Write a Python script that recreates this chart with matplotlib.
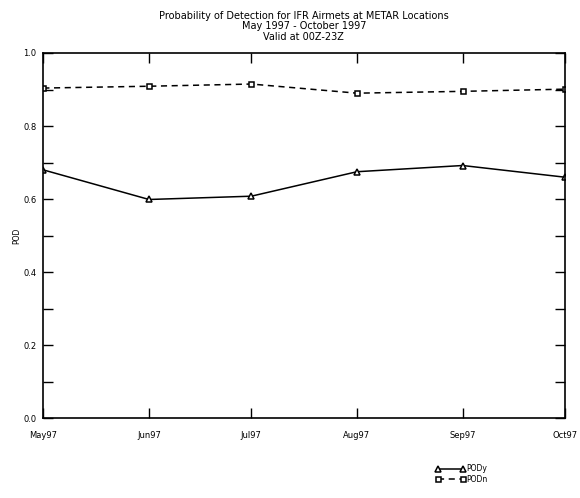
import datetime as dt
import matplotlib
matplotlib.use("Agg")
import matplotlib.pyplot as plt
import matplotlib.dates as mdates
from matplotlib.ticker import MultipleLocator

# monthly values
months = [dt.date(1997, 5, 1), dt.date(1997, 6, 1), dt.date(1997, 7, 1),
          dt.date(1997, 8, 1), dt.date(1997, 9, 1), dt.date(1997, 10, 1)]
pody = [0.680, 0.599, 0.608, 0.675, 0.692, 0.660]
podn = [0.904, 0.909, 0.915, 0.890, 0.895, 0.901]

plt.rcParams['font.family'] = ['DejaVu Sans']

fig = plt.figure(figsize=(5.8, 4.98), dpi=100)
ax = fig.add_axes([0.0747, 0.160, 0.8993, 0.7336])

ax.plot(months, pody, color='black', lw=1.1, marker='^', ms=4,
        mfc='white', mec='black', mew=1.1, label='PODy')
ax.plot(months, podn, color='black', lw=1.1, ls=(0, (4, 3)), marker='s', ms=3.6,
        mfc='white', mec='black', mew=1.1, label='PODn')

ax.set_xlim(months[0], months[-1])
ax.set_ylim(0.0, 1.0)
ax.xaxis.set_major_locator(mdates.MonthLocator())
ax.xaxis.set_major_formatter(mdates.DateFormatter('%b%y'))
ax.yaxis.set_major_locator(MultipleLocator(0.2))
ax.yaxis.set_minor_locator(MultipleLocator(0.1))
ax.yaxis.set_major_formatter(plt.FuncFormatter(lambda v, p: f"{v:.1f}"))

ax.tick_params(which='both', direction='in', top=True, right=True,
               length=7, width=1.0, labelsize=6, pad=5)
ax.tick_params(axis='x', pad=9)
for s in ax.spines.values():
    s.set_linewidth(1.2)

ax.set_ylabel('POD', fontsize=5.5, labelpad=1)
fig.text(0.524, 0.978, 'Probability of Detection for IFR Airmets at METAR Locations\n'
         'May 1997 - October 1997\nValid at 00Z-23Z',
         ha='center', va='top', fontsize=7, linespacing=1.05)

leg = ax.legend(loc='lower left', bbox_to_anchor=(0.752, 0.029),
                bbox_transform=fig.transFigure, frameon=False, numpoints=2,
                handlelength=3.8, handletextpad=0.15, labelspacing=0.15,
                fontsize=5.5, borderpad=0, borderaxespad=0)

fig.savefig('out.png', dpi=100)
